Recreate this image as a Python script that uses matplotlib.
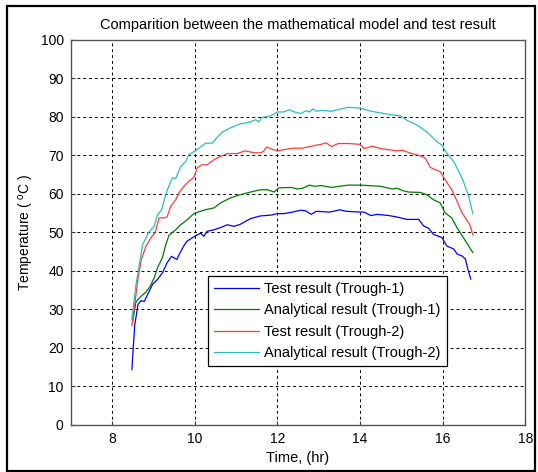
import matplotlib
matplotlib.use("Agg")
import matplotlib.pyplot as plt
from matplotlib.patches import Rectangle

plt.rcParams['font.family'] = ['Liberation Sans', 'DejaVu Sans']
plt.rcParams['mathtext.fontset'] = 'custom'
plt.rcParams['mathtext.rm'] = 'Liberation Sans'
plt.rcParams['mathtext.it'] = 'Liberation Sans'

# ---------------- data ----------------
t1_test_x = [8.48, 8.55, 8.63, 8.70, 8.78, 8.88, 8.98, 9.10, 9.22, 9.33, 9.44, 9.50, 9.57, 9.62,
             9.73, 9.81, 9.94, 10.06, 10.15, 10.22, 10.30, 10.47, 10.63, 10.79, 10.95, 11.10,
             11.35, 11.59, 11.84, 12.00, 12.16, 12.37, 12.57, 12.69, 12.82, 12.94, 13.27, 13.51,
             13.67, 14.00, 14.10, 14.26, 14.42, 14.70, 14.90, 15.14, 15.42, 15.54, 15.66, 15.78,
             15.98, 16.10, 16.27, 16.35, 16.47, 16.55, 16.60, 16.68]
t1_test_y = [14.4, 26.0, 31.3, 32.3, 32.1, 34.3, 36.5, 37.8, 39.5, 42.1, 43.8, 43.4, 43.0, 44.2,
             46.4, 47.7, 48.6, 49.4, 49.8, 49.0, 50.3, 50.7, 51.3, 52.0, 51.6, 52.1,
             53.6, 54.3, 54.5, 54.9, 54.9, 55.3, 55.8, 55.6, 54.7, 55.5, 55.3, 55.9,
             55.5, 55.3, 55.3, 54.4, 54.7, 54.4, 54.0, 53.4, 53.4, 51.7, 51.1, 49.5,
             48.7, 46.5, 45.7, 44.4, 43.9, 43.1, 40.9, 37.9]

t1_model_x = [8.50, 8.58, 8.70, 8.82, 8.92, 9.02, 9.10, 9.22, 9.30, 9.38, 9.54, 9.66, 9.82, 9.98,
              10.22, 10.47, 10.63, 10.87, 11.10, 11.35, 11.59, 11.76, 11.92, 12.04, 12.33, 12.49,
              12.61, 12.78, 12.90, 13.06, 13.31, 13.71, 14.00, 14.50, 14.78, 14.90, 15.02, 15.18,
              15.46, 15.62, 15.78, 15.94, 16.06, 16.22, 16.35, 16.50, 16.73]
t1_model_y = [26.9, 32.0, 33.4, 34.5, 36.0, 38.2, 40.8, 43.5, 46.8, 49.3, 50.7, 52.0, 53.3, 54.9,
              55.8, 56.4, 57.7, 59.0, 59.8, 60.5, 61.1, 61.1, 60.5, 61.6, 61.7, 61.3,
              61.5, 62.3, 62.0, 62.2, 61.7, 62.3, 62.3, 62.0, 61.3, 61.5, 60.9, 60.5,
              60.4, 59.8, 58.5, 57.7, 55.1, 53.8, 51.2, 48.7, 44.8]

t2_test_x = [8.48, 8.55, 8.63, 8.71, 8.82, 8.94, 9.04, 9.14, 9.26, 9.33, 9.42, 9.54, 9.62, 9.74,
             9.86, 9.98, 10.06, 10.18, 10.30, 10.47, 10.59, 10.79, 11.03, 11.22, 11.35, 11.47,
             11.59, 11.66, 11.74, 11.88, 12.00, 12.20, 12.41, 12.61, 12.86, 13.06, 13.18, 13.31,
             13.47, 13.71, 14.00, 14.10, 14.30, 14.50, 14.90, 15.02, 15.22, 15.46, 15.58, 15.70,
             15.94, 16.06, 16.22, 16.35, 16.47, 16.63, 16.67, 16.73]
t2_test_y = [25.8, 31.3, 38.2, 43.0, 46.4, 48.6, 49.9, 53.8, 53.8, 54.0, 56.8, 58.5, 60.3, 62.0,
             63.3, 64.3, 66.8, 67.6, 67.6, 68.9, 69.6, 70.5, 70.5, 71.2, 70.9, 70.7,
             70.7, 71.0, 72.2, 71.6, 71.2, 71.6, 71.9, 71.9, 72.5, 72.9, 73.3, 72.3,
             73.1, 73.1, 72.9, 71.8, 72.4, 71.8, 71.2, 71.4, 70.6, 69.9, 69.3, 66.9,
             65.8, 63.7, 61.1, 58.1, 55.1, 52.5, 51.7, 49.4]

t2_model_x = [8.48, 8.58, 8.66, 8.74, 8.88, 9.02, 9.10, 9.20, 9.28, 9.34, 9.46, 9.54, 9.66, 9.78,
              9.86, 9.98, 10.10, 10.27, 10.43, 10.55, 10.67, 10.87, 11.10, 11.35, 11.47, 11.55,
              11.63, 11.84, 12.00, 12.16, 12.29, 12.41, 12.57, 12.69, 12.78, 12.86, 12.94, 13.06,
              13.31, 13.55, 13.71, 14.00, 14.26, 14.74, 14.98, 15.14, 15.38, 15.62, 15.86, 15.98,
              16.10, 16.27, 16.43, 16.50, 16.63, 16.73]
t2_model_y = [27.5, 36.5, 41.6, 46.8, 49.9, 51.6, 54.6, 55.9, 59.0, 61.1, 64.2, 64.0, 67.1, 68.4,
              70.2, 71.0, 71.9, 73.2, 73.2, 74.8, 76.1, 77.2, 78.2, 78.7, 79.3, 78.7,
              79.9, 80.3, 81.3, 81.3, 81.9, 81.3, 80.9, 81.6, 81.3, 82.1, 81.5, 81.7,
              81.5, 82.1, 82.5, 82.3, 81.5, 80.6, 80.3, 79.1, 77.9, 76.1, 73.6, 72.7,
              70.6, 68.4, 65.0, 63.3, 59.4, 54.9]

labels = ['Test result (Trough-1)', 'Analytical result (Trough-1)',
          'Test result (Trough-2)', 'Analytical result (Trough-2)']
x_ticks = [8, 10, 12, 14, 16, 18]
y_ticks = [0, 10, 20, 30, 40, 50, 60, 70, 80, 90, 100]

# ---------------- figure ----------------
fig = plt.figure(figsize=(5.38, 4.72), dpi=100)
fig.patch.set_facecolor('white')
ax = fig.add_axes([0.1314, 0.0996, 0.845, 0.8157])

colors = ['#0000ff', '#007a00', '#ff3b3b', '#2ebdbd']
series = [(t1_test_x, t1_test_y), (t1_model_x, t1_model_y),
          (t2_test_x, t2_test_y), (t2_model_x, t2_model_y)]
for (xs, ys), c, lab in zip(series, colors, labels):
    ax.plot(xs, ys, color=c, lw=0.9, label=lab)

ax.set_xlim(7, 18)
ax.set_ylim(0, 100)
ax.set_xticks(x_ticks)
ax.set_yticks(y_ticks)
ax.tick_params(direction='in', length=3, labelsize=10, color='#333333', pad=5)
ax.grid(True, color='black', linestyle=(0, (3, 3)), lw=0.7)
for s in ax.spines.values():
    s.set_color('#555555')
    s.set_linewidth(1.0)

ax.set_title('Comparition between the mathematical model and test result', fontsize=10.5, pad=8)
ax.set_xlabel('Time, (hr)', fontsize=10.5, labelpad=4)
ax.set_ylabel('Temperature ( $^{\\mathrm{o}}$C )', fontsize=10, labelpad=3)

leg = ax.legend(loc='upper left', bbox_to_anchor=(0.302, 0.387), borderaxespad=0,
                fontsize=10.5, fancybox=False, framealpha=1, edgecolor='black',
                handlelength=3.1, labelspacing=0.5, handletextpad=0.35, borderpad=0.42)
leg.get_frame().set_linewidth(0.9)

fig.add_artist(Rectangle((0.013, 0.003), 0.981, 0.985, transform=fig.transFigure,
                         fill=False, edgecolor='black', lw=1.6))

fig.savefig('out.png', dpi=100)
